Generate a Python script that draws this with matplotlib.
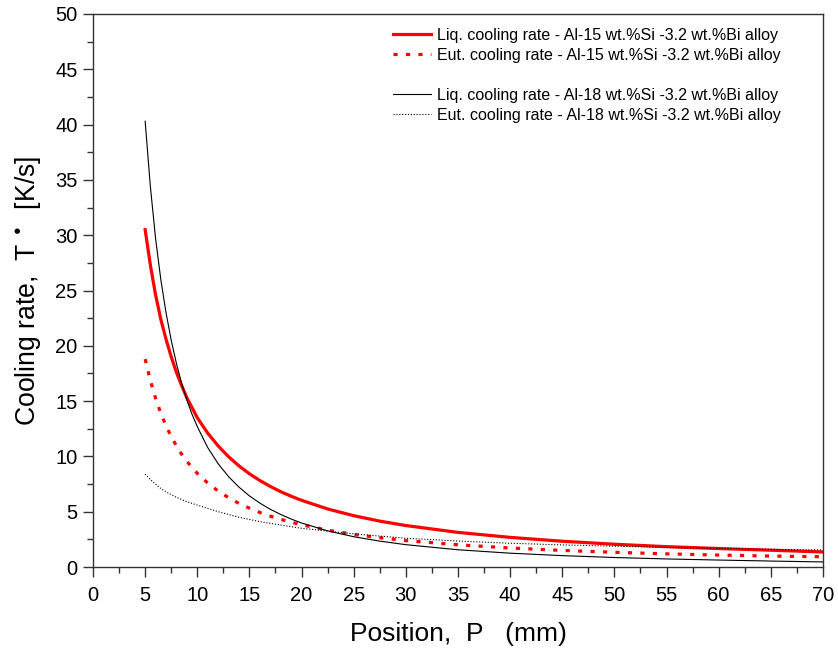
import matplotlib
matplotlib.use("Agg")
import matplotlib.pyplot as plt
from matplotlib.lines import Line2D
from matplotlib.ticker import MultipleLocator

plt.rcParams['font.family'] = ['Liberation Sans', 'DejaVu Sans']

position = [5, 5.5, 6, 6.5, 7, 7.5, 8, 8.5, 9, 9.5, 10, 11, 12, 13, 14, 15, 16, 17, 18, 19,
            20, 22.5, 25, 27.5, 30, 35, 40, 45, 50, 55, 60, 65, 70]
liq_15 = [30.5, 27.3, 24.6, 22.4, 20.6, 19.0, 17.6, 16.4, 15.3, 14.4, 13.5, 12.1, 10.95, 9.97,
          9.14, 8.43, 7.82, 7.29, 6.81, 6.40, 6.03, 5.25, 4.64, 4.15, 3.75, 3.13,
          2.68, 2.33, 2.06, 1.84, 1.67, 1.52, 1.36]
eut_15 = [18.8, 16.85, 15.25, 13.9, 12.77, 11.8, 10.95, 10.2, 9.56, 8.99, 8.47, 7.59, 6.87, 6.27,
          5.75, 5.32, 4.93, 4.60, 4.31, 4.05, 3.82, 3.33, 2.95, 2.65, 2.39, 2.01,
          1.72, 1.50, 1.33, 1.19, 1.08, 0.99, 0.93]
liq_18 = [40.3, 34.4, 29.7, 26.0, 23.0, 20.5, 18.4, 16.6, 15.1, 13.8, 12.7, 10.8, 9.34, 8.17,
          7.22, 6.43, 5.78, 5.22, 4.75, 4.34, 3.98, 3.27, 2.74, 2.34, 2.02, 1.56,
          1.25, 1.03, 0.86, 0.73, 0.63, 0.54, 0.46]
eut_18 = [8.4, 7.9, 7.5, 7.1, 6.8, 6.55, 6.3, 6.1, 5.9, 5.75, 5.6, 5.3, 5.0, 4.75,
          4.5, 4.3, 4.1, 3.95, 3.8, 3.65, 3.5, 3.25, 3.0, 2.8, 2.6, 2.35,
          2.15, 2.0, 1.88, 1.77, 1.68, 1.6, 1.54]

labels = [
    "Liq. cooling rate - Al-15 wt.%Si -3.2 wt.%Bi alloy",
    "Eut. cooling rate - Al-15 wt.%Si -3.2 wt.%Bi alloy",
    "Liq. cooling rate - Al-18 wt.%Si -3.2 wt.%Bi alloy",
    "Eut. cooling rate - Al-18 wt.%Si -3.2 wt.%Bi alloy",
]

fig = plt.figure(figsize=(8.38, 6.54), dpi=100)
ax = fig.add_axes([0.111, 0.133, 0.871, 0.8456])

l1, = ax.plot(position, liq_15, color='#ff0000', lw=2.3, label=labels[0])
l2, = ax.plot(position, eut_15, color='#ff0000', lw=2.3, linestyle=(0, (1.3, 2.6)),
              dash_capstyle='butt', label=labels[1])
l3, = ax.plot(position, liq_18, color='black', lw=0.8, label=labels[2])
l4, = ax.plot(position, eut_18, color='black', lw=0.8, linestyle=(0, (1, 1.6)), label=labels[3])

ax.set_xlim(0, 70)
ax.set_ylim(0, 50)
ax.xaxis.set_major_locator(MultipleLocator(5))
ax.xaxis.set_minor_locator(MultipleLocator(2.5))
ax.yaxis.set_major_locator(MultipleLocator(5))
ax.yaxis.set_minor_locator(MultipleLocator(2.5))

spine_color = '#333333'
for s in ax.spines.values():
    s.set_color(spine_color)
    s.set_linewidth(1.0)
ax.tick_params(which='major', direction='out', length=7, width=1, color=spine_color,
               labelsize=14.5)
ax.tick_params(axis='x', which='major', pad=7)
ax.tick_params(axis='y', which='major', pad=4)
ax.tick_params(which='minor', direction='out', length=4, width=1, color=spine_color)

ax.set_xlabel("Position,  P   (mm)", fontsize=19, labelpad=12)
ax.set_ylabel(r"Cooling rate,  T $^{\bullet}$  [K/s]", fontsize=19.2, labelpad=9)

blank = Line2D([], [], color='none')
ax.legend([l1, l2, blank, l3, l4], [labels[0], labels[1], " ", labels[2], labels[3]],
          loc='upper left', bbox_to_anchor=(0.411, 0.9755), frameon=False, fontsize=11.5,
          borderpad=0, borderaxespad=0, handlelength=2.35, handletextpad=0.4,
          labelspacing=0.32)

fig.savefig("out.png", dpi=100)
